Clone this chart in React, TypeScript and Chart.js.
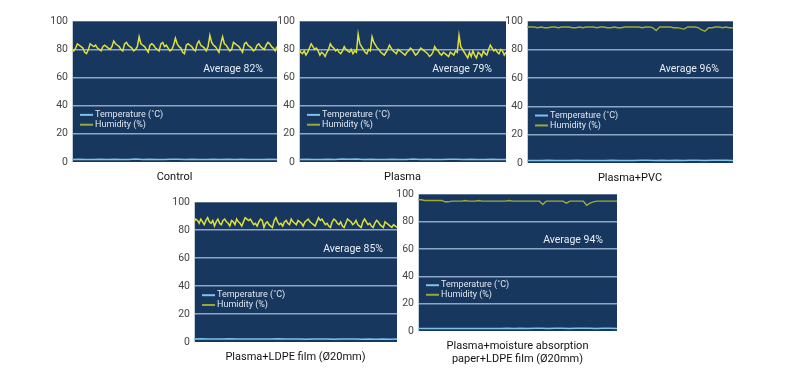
import React, { useEffect, useRef } from 'react';
import { Chart, registerables } from 'chart.js';

Chart.register(...registerables);

const Y_TICKS = [0, 20, 40, 60, 80, 100];

const CONTROL_HUMIDITY = [
  80, 79, 81, 84, 83, 82, 81, 78, 77, 80, 84, 83, 82, 83, 81, 80, 79, 82, 83, 82,
  81, 80, 82, 86, 84, 83, 82, 80, 79, 84, 85, 83, 82, 81, 79, 80, 82, 89, 84, 83,
  82, 80, 78, 83, 84, 83, 81, 80, 79, 84, 85, 82, 83, 81, 79, 80, 83, 88, 84, 82,
  81, 78, 77, 83, 84, 83, 82, 80, 79, 84, 86, 83, 82, 81, 79, 82, 90, 85, 83, 82,
  80, 78, 84, 89, 84, 83, 81, 79, 80, 85, 84, 83, 82, 80, 78, 84, 85, 83, 82, 81,
  79, 80, 83, 84, 82, 81, 80, 83, 85, 84, 82, 81, 79, 82,
];
const PLASMA_HUMIDITY = [
  80, 78, 77, 79, 76, 78, 81, 84, 82, 80, 81, 79, 76, 78, 77, 75, 78, 80, 84, 82,
  81, 79, 80, 78, 77, 79, 82, 80, 79, 78, 80, 77, 79, 78, 91, 84, 82, 80, 78, 77,
  80, 79, 89, 85, 83, 81, 80, 78, 77, 76, 78, 80, 83, 81, 79, 78, 77, 80, 79, 78,
  77, 76, 78, 79, 81, 80, 78, 76, 77, 79, 81, 80, 79, 78, 77, 75, 76, 78, 82, 80,
  79, 77, 76, 78, 77, 76, 75, 78, 77, 76, 79, 78, 90, 82, 80, 78, 76, 74, 78, 75,
  79, 76, 74, 78, 77, 75, 79, 77, 76, 80, 83, 81, 79, 80, 78, 77, 80, 79, 76, 78,
];
const PVC_HUMIDITY = [
  96, 96, 96, 95.5, 96, 95.5, 95.5, 96, 96, 95.5, 96, 96, 96, 95.5, 95.5, 96, 95.5, 96, 96, 96,
  95.5, 96, 96, 95.5, 95.5, 96, 95.5, 95.5, 96, 96, 96, 96, 96, 95.5, 96, 96, 95.5, 93.5, 96, 96,
  96, 96, 95.5, 95.5, 95, 94.5, 96, 96, 96, 95.5, 94, 93, 95.5, 95.5, 96, 96, 95.5, 96, 95.5, 95.5,
];
const LDPE_HUMIDITY = [
  86, 88, 87, 85, 88, 86, 84, 87, 89, 86, 85, 87, 83, 86, 88, 85, 84, 87, 88, 86,
  85, 83, 87, 86, 84, 88, 86, 85, 83, 86, 89, 88, 87, 88, 86, 84, 85, 83, 86, 88,
  87, 82, 85, 86, 84, 83, 82, 87, 89, 86, 84, 85, 83, 86, 87, 85, 84, 88, 86, 85,
  84, 87, 86, 85, 83, 86, 87, 88, 86, 85, 84, 83, 86, 89, 87, 88, 86, 84, 85, 83,
  82, 86, 88, 87, 85, 84, 86, 83, 82, 85, 88, 87, 86, 84, 85, 87, 84, 83, 82, 86,
  88, 86, 84, 85, 83, 82, 85, 87, 86, 84, 83, 82, 86, 85, 84, 83, 82, 84, 83, 82,
];
const PAPER_HUMIDITY = [
  96, 96, 95.5, 95.5, 95.5, 95.5, 95.5, 95.5, 94.5, 94.5, 95, 95, 95, 95, 95.5, 95, 95, 95, 95.5, 95,
  95, 95, 95, 95, 95, 95, 95, 95.5, 95, 95, 95, 95, 95, 95, 95, 95, 95, 92.5, 95, 95,
  95, 95, 95, 95, 93.5, 95, 95, 95, 95, 95, 92, 93.5, 94.5, 95, 95, 95, 95, 95, 95, 95,
];

const CONTROL_TEMP = [1.8, 1.9, 1.7, 1.8, 2.0, 1.8, 1.9, 1.7, 1.8, 2.1, 1.8, 1.9, 1.8, 1.7, 1.9, 2.0, 1.8, 1.9, 1.8, 1.7, 1.9, 1.8, 2.0, 1.8, 1.9, 1.8, 1.7, 1.8, 1.9, 1.8];
const PLASMA_TEMP = [1.8, 1.9, 1.8, 1.8, 1.9, 1.8, 2.2, 1.9, 2.1, 1.8, 1.9, 1.8, 1.8, 1.9, 1.8, 1.7, 2.1, 1.8, 1.9, 1.8, 1.8, 1.9, 2.0, 1.8, 1.9, 1.8, 1.8, 1.9, 1.8, 1.8];
const PVC_TEMP = [1.8, 1.8, 1.8, 1.9, 1.8, 1.8, 1.8, 1.9, 1.8, 1.8, 1.8, 1.8, 1.9, 1.8, 1.8, 1.8, 1.9, 2.0, 1.8, 1.9, 1.8, 2.0, 1.8, 1.9, 2.0, 1.8, 1.9, 2.0, 1.9, 1.8];
const LDPE_TEMP = [2.2, 2.3, 2.2, 2.1, 2.2, 2.3, 2.2, 2.1, 2.2, 2.2, 2.1, 2.2, 2.3, 2.1, 2.2, 2.1, 2.0, 2.1, 2.2, 2.1, 2.0, 2.1, 2.2, 2.1, 2.0, 2.1, 2.0, 2.1, 2.0, 2.1];
const PAPER_TEMP = [1.9, 1.9, 1.9, 1.9, 1.9, 1.9, 1.9, 1.9, 1.9, 1.9, 1.9, 1.9, 1.9, 2.0, 1.9, 2.0, 1.9, 2.0, 2.1, 1.9, 2.0, 2.1, 1.9, 2.0, 2.1, 2.0, 1.9, 2.1, 2.0, 1.9];

const TITLES = [
  ['Control'],
  ['Plasma'],
  ['Plasma+PVC'],
  ['Plasma+LDPE film (Ø20mm)'],
  ['Plasma+moisture absorption', 'paper+LDPE film (Ø20mm)'],
];
const AVERAGES = [82, 79, 96, 85, 94];
const LEGEND_LABELS = ['Temperature (˚C)', 'Humidity (%)'];

const HUMIDITY_SERIES = [CONTROL_HUMIDITY, PLASMA_HUMIDITY, PVC_HUMIDITY, LDPE_HUMIDITY, PAPER_HUMIDITY];
const TEMP_SERIES = [CONTROL_TEMP, PLASMA_TEMP, PVC_TEMP, LDPE_TEMP, PAPER_TEMP];

// layout (plot-area rectangles on the page)
const RECTS = [
  { L: 72, T: 19, R: 277, B: 162 },
  { L: 299, T: 19, R: 506, B: 162 },
  { L: 527, T: 19, R: 733, B: 163 },
  { L: 194, T: 200, R: 397, B: 342 },
  { L: 418, T: 192, R: 617, B: 331 },
];
const HUM_COLORS = ['#e0e03a', '#e0e03a', '#a3ad2c', '#e0e03a', '#a3ad2c'];
const HUM_WIDTHS = [1.5, 1.5, 1.4, 1.5, 1.4];

const AX = 32;
const PT = 8;
const PR = 6;
const PB = 44;
const FONT = 'Roboto, "Noto Sans", sans-serif';
const BG = '#17375e';
const GRID = '#8ea7c6';
const TEMP_COLOR = '#7ec3ea';
const LEGEND_HUM = '#9aa83a';

function toXY(vals: number[]) {
  const n = vals.length - 1;
  return vals.map((v, i) => ({ x: i / n, y: v }));
}

function Panel({ idx }: { idx: number }) {
  const ref = useRef<HTMLCanvasElement | null>(null);
  const r = RECTS[idx];
  const w = r.R - r.L + AX + PR;
  const h = r.B - r.T + PT + PB;

  useEffect(() => {
    if (!ref.current) return;
    const decor = {
      id: 'decor',
      beforeDraw(chart: any) {
        const { ctx, chartArea: a } = chart;
        ctx.save();
        ctx.fillStyle = BG;
        ctx.fillRect(a.left, a.top, a.right - a.left, a.bottom - a.top);
        ctx.restore();
      },
      afterDraw(chart: any) {
        const { ctx, chartArea: a } = chart;
        const y = chart.scales.y;
        ctx.save();
        ctx.font = `9px ${FONT}`;
        ctx.textBaseline = 'middle';
        ctx.textAlign = 'left';
        const rows = [
          { label: LEGEND_LABELS[0], color: TEMP_COLOR, v: 33.5 },
          { label: LEGEND_LABELS[1], color: LEGEND_HUM, v: 26.5 },
        ];
        rows.forEach((row) => {
          const py = y.getPixelForValue(row.v);
          ctx.strokeStyle = row.color;
          ctx.lineWidth = 2;
          ctx.beginPath();
          ctx.moveTo(a.left + 8, py);
          ctx.lineTo(a.left + 21, py);
          ctx.stroke();
          ctx.fillStyle = '#dfe6ef';
          ctx.fillText(row.label, a.left + 23, py);
        });
        ctx.font = `10.5px ${FONT}`;
        ctx.textAlign = 'right';
        ctx.fillStyle = '#e8eef5';
        ctx.fillText(`Average ${AVERAGES[idx]}%`, a.right - 14, y.getPixelForValue(66));
        ctx.font = `11px ${FONT}`;
        ctx.textAlign = 'center';
        ctx.fillStyle = '#111';
        const cx = (a.left + a.right) / 2;
        TITLES[idx].forEach((line, i) => {
          ctx.fillText(line, cx, a.bottom + 15.5 + i * 13);
        });
        ctx.restore();
      },
    };
    const chart = new Chart(ref.current, {
      type: 'line',
      data: {
        datasets: [
          {
            label: LEGEND_LABELS[1],
            data: toXY(HUMIDITY_SERIES[idx]),
            borderColor: HUM_COLORS[idx],
            borderWidth: HUM_WIDTHS[idx],
            pointRadius: 0,
            tension: 0,
          },
          {
            label: LEGEND_LABELS[0],
            data: toXY(TEMP_SERIES[idx]),
            borderColor: TEMP_COLOR,
            borderWidth: 1.5,
            pointRadius: 0,
            tension: 0,
          },
        ],
      },
      options: {
        animation: false,
        responsive: false,
        devicePixelRatio: 1,
        layout: { padding: { left: 0, top: PT, right: PR, bottom: PB } },
        plugins: { legend: { display: false }, tooltip: { enabled: false } },
        scales: {
          x: { type: 'linear', min: 0, max: 1, display: false },
          y: {
            min: 0,
            max: 100,
            afterBuildTicks: (s: any) => {
              s.ticks = Y_TICKS.map((v) => ({ value: v }));
            },
            afterFit: (s: any) => {
              s.width = AX;
            },
            ticks: {
              color: '#444',
              font: { family: FONT, size: 10.5 },
              padding: 4,
            },
            grid: {
              drawTicks: false,
              lineWidth: 1.5,
              color: (c: any) => (c.tick && (c.tick.value === 0 || c.tick.value === 100) ? 'rgba(0,0,0,0)' : GRID),
            },
            border: { display: true, color: '#c3ccd8', width: 1 },
          },
        },
      },
      plugins: [decor],
    } as any);
    return () => chart.destroy();
  }, [idx]);

  return (
    <canvas
      ref={ref}
      width={w}
      height={h}
      style={{ position: 'absolute', left: r.L - AX, top: r.T - PT, width: w, height: h }}
    />
  );
}

export default function App() {
  return (
    <div style={{ position: 'absolute', left: 0, top: 0, width: 800, height: 371, background: '#fff', overflow: 'hidden' }}>
      {RECTS.map((_, i) => (
        <Panel key={i} idx={i} />
      ))}
    </div>
  );
}
